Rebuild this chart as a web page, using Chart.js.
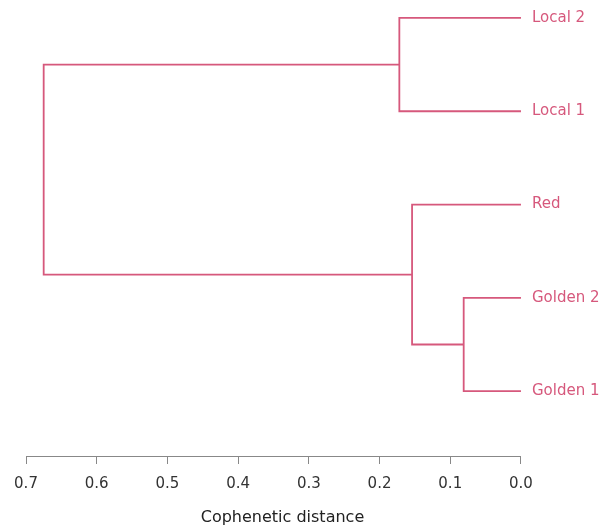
<!DOCTYPE html>
<html>
<head>
<meta charset="utf-8">
<script src="https://cdn.jsdelivr.net/npm/chart.js@4/dist/chart.umd.min.js"></script>
<style>
html,body{margin:0;padding:0;background:#fff;}
#wrap{width:607px;height:528px;position:relative;}
</style>
</head>
<body>
<div id="wrap"><canvas id="c"></canvas></div>
<script>
// Leaves, bottom to top
const leaves = ['Golden 1', 'Golden 2', 'Red', 'Local 1', 'Local 2'];
// Merges (scipy-style): cluster ids 0..4 are leaves, new clusters get ids 5, 6, ...
const mergePairs = [[0, 1], [2, 5], [3, 4], [6, 7]];
const mergeHeights = [0.081, 0.154, 0.172, 0.675];
const xTicks = [0.7, 0.6, 0.5, 0.4, 0.3, 0.2, 0.1, 0.0];
const xTitle = 'Cophenetic distance';
const lineColor = '#d6587c';

const nodeY = leaves.map((_, i) => i + 1);
const nodeH = leaves.map(() => 0);
const datasets = [];
mergePairs.forEach((pair, k) => {
  const [a, b] = pair;
  const h = mergeHeights[k];
  datasets.push({
    data: [
      {x: nodeH[a], y: nodeY[a]},
      {x: h, y: nodeY[a]},
      {x: h, y: nodeY[b]},
      {x: nodeH[b], y: nodeY[b]}
    ],
    borderColor: lineColor,
    borderWidth: 1.8,
    pointRadius: 0,
    fill: false,
    tension: 0
  });
  nodeY.push((nodeY[a] + nodeY[b]) / 2);
  nodeH.push(h);
});

Chart.defaults.font.family = 'DejaVu Sans';
Chart.defaults.font.size = 15;

// x-axis title drawn slightly right of the axis centre, as in the reference
const axisTitlePlugin = {
  id: 'axisTitle',
  afterDraw(chart) {
    const ctx = chart.ctx;
    const a = chart.chartArea;
    ctx.save();
    ctx.font = '16px "DejaVu Sans"';
    ctx.fillStyle = '#222';
    ctx.textAlign = 'center';
    ctx.textBaseline = 'middle';
    ctx.fillText(xTitle, (a.left + a.right) / 2 + 9, chart.height - 10.4);
    ctx.restore();
  }
};

new Chart(document.getElementById('c'), {
  type: 'scatter',
  data: {datasets},
  options: {
    responsive: true,
    maintainAspectRatio: false,
    animation: false,
    showLine: true,
    layout: {padding: {left: 26, right: 7.5, top: 0, bottom: 24}},
    plugins: {legend: {display: false}, tooltip: {enabled: false}},
    scales: {
      x: {
        type: 'linear',
        reverse: true,
        min: 0,
        max: 0.7,
        afterBuildTicks: s => { s.ticks = xTicks.map(v => ({value: v})); },
        ticks: {color: '#333', padding: 11, font: {size: 15}, callback: v => Number(v).toFixed(1), maxRotation: 0, autoSkip: false},
        grid: {display: true, drawOnChartArea: false, drawTicks: true, tickLength: 8, color: '#888', lineWidth: 1},
        border: {display: true, color: '#888', width: 1},
        title: {display: false}
      },
      y: {
        type: 'linear',
        position: 'right',
        min: 0.305,
        max: 5.096,
        afterBuildTicks: s => { s.ticks = leaves.map((_, i) => ({value: i + 1})); },
        ticks: {color: lineColor, padding: 0, font: {size: 15}, callback: (v) => leaves[Math.round(v) - 1], autoSkip: false},
        grid: {display: true, drawOnChartArea: false, drawTicks: true, tickLength: 11, color: 'rgba(0,0,0,0)'},
        border: {display: false}
      }
    }
  },
  plugins: [axisTitlePlugin]
});
</script>
</body>
</html>
